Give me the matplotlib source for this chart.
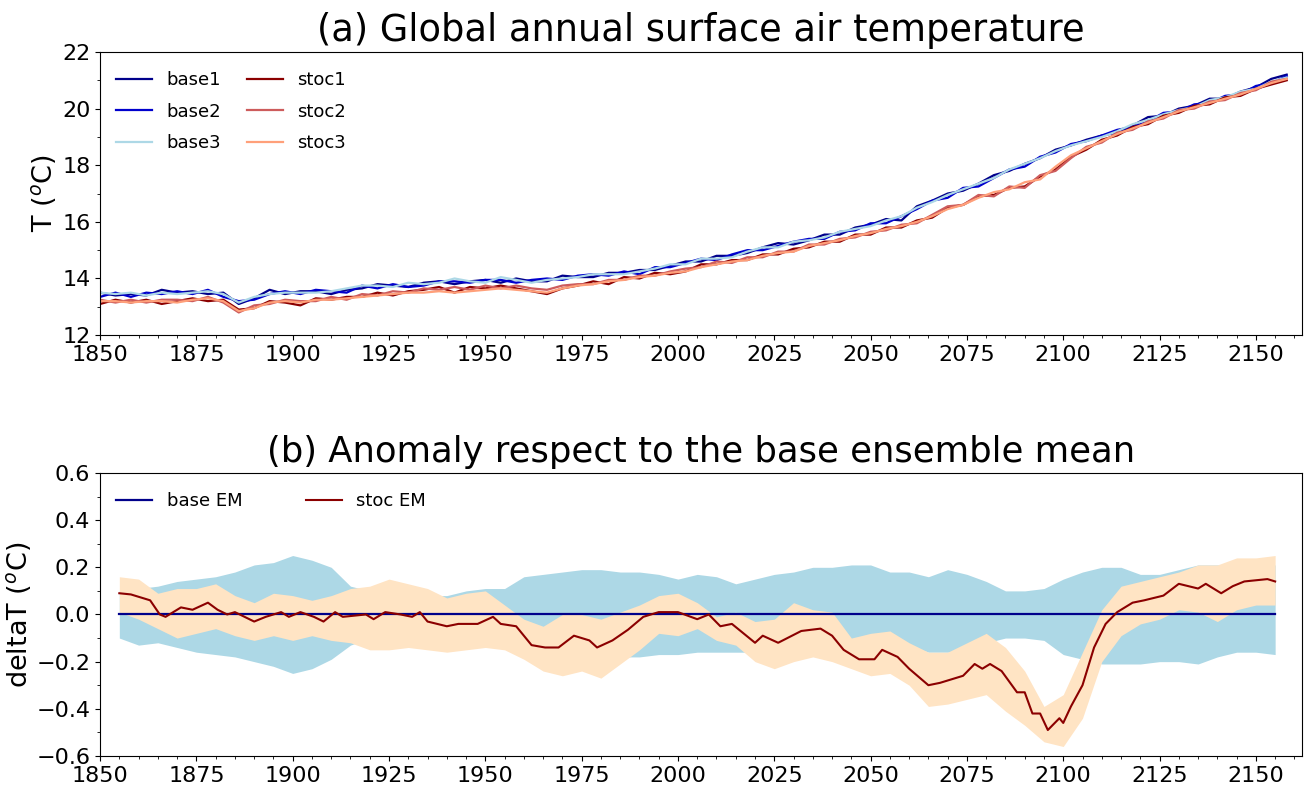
import numpy as np
import matplotlib
matplotlib.use("Agg")
import matplotlib.pyplot as plt
from matplotlib.ticker import MultipleLocator

# ---- panel (a): global annual SAT, read every 4 years ----
years = np.arange(1850, 2162, 4)

base1 = [13.50, 13.40, 13.45, 13.40, 13.60, 13.50, 13.55, 13.45, 13.50, 13.10,
         13.30, 13.60, 13.45, 13.55, 13.55, 13.45, 13.60, 13.65, 13.80, 13.75,
         13.70, 13.85, 13.90, 13.80, 13.90, 13.95, 13.85, 14.00, 13.90, 13.90,
         14.10, 14.05, 14.05, 14.20, 14.20, 14.30, 14.30, 14.45, 14.60, 14.60,
         14.80, 14.80, 14.90, 15.10, 15.25, 15.20, 15.35, 15.55, 15.55, 15.80,
         15.90, 16.10, 16.05, 16.55, 16.75, 17.00, 17.10, 17.35, 17.65, 17.80,
         18.05, 18.25, 18.55, 18.70, 18.90, 19.05, 19.15, 19.40, 19.70, 19.75,
         20.00, 20.10, 20.35, 20.35, 20.60, 20.75, 21.05, 21.20]
base2 = [13.35, 13.50, 13.35, 13.50, 13.45, 13.55, 13.45, 13.60, 13.35, 13.20,
         13.25, 13.45, 13.55, 13.45, 13.60, 13.55, 13.50, 13.75, 13.65, 13.80,
         13.70, 13.75, 13.90, 13.90, 13.85, 13.95, 13.95, 13.85, 13.95, 14.00,
         13.95, 14.10, 14.15, 14.10, 14.25, 14.15, 14.40, 14.40, 14.55, 14.70,
         14.65, 14.85, 15.00, 15.00, 15.15, 15.30, 15.40, 15.40, 15.65, 15.70,
         15.95, 15.95, 16.20, 16.45, 16.75, 16.85, 17.20, 17.25, 17.55, 17.85,
         17.95, 18.30, 18.45, 18.75, 18.85, 19.05, 19.25, 19.35, 19.55, 19.85,
         19.90, 20.15, 20.20, 20.45, 20.50, 20.80, 20.90, 21.15]
base3 = [13.50, 13.45, 13.50, 13.40, 13.50, 13.45, 13.50, 13.55, 13.45, 13.15,
         13.35, 13.45, 13.50, 13.50, 13.50, 13.55, 13.65, 13.75, 13.75, 13.70,
         13.85, 13.80, 13.85, 14.00, 13.90, 13.85, 14.05, 13.95, 13.85, 13.95,
         14.00, 14.05, 14.15, 14.15, 14.15, 14.25, 14.35, 14.50, 14.50, 14.70,
         14.70, 14.75, 14.95, 15.10, 15.10, 15.30, 15.35, 15.45, 15.65, 15.75,
         15.85, 16.05, 16.20, 16.50, 16.70, 16.95, 17.15, 17.35, 17.55, 17.85,
         18.05, 18.25, 18.50, 18.70, 18.85, 19.00, 19.20, 19.45, 19.60, 19.80,
         19.95, 20.05, 20.30, 20.40, 20.60, 20.70, 20.95, 21.10]
stoc1 = [13.10, 13.25, 13.15, 13.25, 13.10, 13.20, 13.30, 13.20, 13.25, 12.90,
         12.95, 13.20, 13.15, 13.05, 13.30, 13.25, 13.35, 13.35, 13.50, 13.40,
         13.55, 13.60, 13.70, 13.50, 13.70, 13.65, 13.75, 13.65, 13.55, 13.45,
         13.65, 13.75, 13.90, 13.80, 14.05, 14.00, 14.20, 14.15, 14.25, 14.50,
         14.50, 14.65, 14.65, 14.85, 14.85, 15.05, 15.10, 15.30, 15.30, 15.55,
         15.55, 15.80, 15.80, 16.05, 16.15, 16.50, 16.60, 16.90, 16.95, 17.20,
         17.25, 17.60, 17.85, 18.30, 18.55, 18.90, 19.05, 19.35, 19.45, 19.75,
         19.85, 20.10, 20.15, 20.40, 20.45, 20.70, 20.85, 21.00]
stoc2 = [13.25, 13.15, 13.25, 13.15, 13.25, 13.25, 13.20, 13.35, 13.15, 12.80,
         13.05, 13.10, 13.25, 13.20, 13.20, 13.35, 13.25, 13.45, 13.40, 13.55,
         13.50, 13.65, 13.60, 13.70, 13.60, 13.75, 13.65, 13.75, 13.65, 13.60,
         13.75, 13.80, 13.80, 13.95, 13.95, 14.10, 14.10, 14.25, 14.35, 14.40,
         14.60, 14.55, 14.75, 14.75, 14.95, 14.95, 15.20, 15.20, 15.40, 15.45,
         15.65, 15.70, 15.90, 15.95, 16.25, 16.55, 16.60, 16.95, 16.90, 17.25,
         17.20, 17.65, 17.80, 18.25, 18.65, 18.80, 19.15, 19.25, 19.55, 19.65,
         19.95, 20.00, 20.25, 20.30, 20.55, 20.65, 20.95, 21.05]
stoc3 = [13.20, 13.20, 13.15, 13.20, 13.20, 13.15, 13.25, 13.30, 13.20, 12.85,
         12.95, 13.15, 13.20, 13.15, 13.25, 13.25, 13.30, 13.35, 13.40, 13.45,
         13.50, 13.50, 13.55, 13.50, 13.55, 13.60, 13.65, 13.60, 13.55, 13.50,
         13.65, 13.75, 13.80, 13.90, 13.95, 14.05, 14.10, 14.20, 14.25, 14.40,
         14.50, 14.60, 14.65, 14.80, 14.90, 14.95, 15.15, 15.25, 15.35, 15.50,
         15.60, 15.75, 15.85, 16.00, 16.20, 16.45, 16.60, 16.85, 17.05, 17.15,
         17.40, 17.50, 17.95, 18.35, 18.60, 18.85, 19.10, 19.30, 19.50, 19.70,
         19.90, 20.05, 20.20, 20.35, 20.50, 20.70, 20.90, 21.05]

# ---- panel (b): anomaly wrt base ensemble mean ----
years_b = np.arange(1855, 2156, 5)
base_hi = [0.10, 0.11, 0.12, 0.14, 0.15, 0.16, 0.18, 0.21, 0.22, 0.25,
           0.23, 0.20, 0.12, 0.10, 0.09, 0.09, 0.08, 0.08, 0.10, 0.11,
           0.11, 0.16, 0.17, 0.18, 0.19, 0.19, 0.18, 0.18, 0.17, 0.15,
           0.17, 0.16, 0.13, 0.15, 0.17, 0.18, 0.20, 0.20, 0.21, 0.21,
           0.18, 0.18, 0.16, 0.19, 0.17, 0.14, 0.10, 0.10, 0.11, 0.15,
           0.18, 0.20, 0.20, 0.17, 0.17, 0.19, 0.21, 0.21, 0.21, 0.21, 0.21]
base_lo = [-0.10, -0.13, -0.12, -0.14, -0.16, -0.17, -0.18, -0.20, -0.22, -0.25,
           -0.23, -0.19, -0.13, -0.10, -0.10, -0.10, -0.10, -0.11, -0.12, -0.13,
           -0.14, -0.16, -0.17, -0.17, -0.18, -0.18, -0.18, -0.18, -0.17, -0.17,
           -0.16, -0.16, -0.16, -0.16, -0.17, -0.16, -0.16, -0.17, -0.20, -0.17,
           -0.13, -0.13, -0.16, -0.16, -0.15, -0.12, -0.10, -0.10, -0.11, -0.17,
           -0.19, -0.21, -0.21, -0.21, -0.20, -0.20, -0.21, -0.18, -0.16, -0.16, -0.17]
stoc_hi = [0.16, 0.15, 0.09, 0.11, 0.11, 0.13, 0.08, 0.05, 0.09, 0.08,
           0.06, 0.08, 0.11, 0.12, 0.15, 0.13, 0.11, 0.07, 0.09, 0.10,
           0.04, -0.02, -0.05, 0.00, 0.00, -0.02, 0.01, 0.04, 0.08, 0.09,
           0.05, -0.01, 0.01, -0.03, -0.02, 0.05, 0.02, 0.01, -0.10, -0.08,
           -0.07, -0.12, -0.16, -0.16, -0.12, -0.08, -0.14, -0.24, -0.39, -0.34,
           -0.16, 0.02, 0.12, 0.14, 0.16, 0.18, 0.21, 0.21, 0.24, 0.24, 0.25]
stoc_lo = [0.01, -0.02, -0.06, -0.10, -0.08, -0.06, -0.09, -0.11, -0.09, -0.11,
           -0.09, -0.11, -0.12, -0.15, -0.15, -0.14, -0.15, -0.16, -0.15, -0.14,
           -0.15, -0.19, -0.24, -0.26, -0.24, -0.27, -0.21, -0.15, -0.08, -0.09,
           -0.06, -0.11, -0.13, -0.20, -0.23, -0.20, -0.18, -0.20, -0.23, -0.26,
           -0.25, -0.30, -0.39, -0.38, -0.36, -0.34, -0.41, -0.47, -0.54, -0.56,
           -0.44, -0.20, -0.09, -0.04, -0.02, 0.02, 0.01, -0.03, 0.02, 0.04, 0.04]
base_em = np.zeros(len(years_b))

# stoc EM read at its turning points
em_years = [1855, 1858, 1861, 1863, 1865.5, 1867, 1871, 1874, 1878, 1880.5,
            1883, 1885, 1890, 1893, 1897, 1899, 1902, 1905.5, 1908, 1911,
            1913, 1919, 1921, 1924, 1928, 1931, 1933, 1935, 1940, 1943,
            1948, 1952, 1954, 1958, 1962, 1965.5, 1969, 1973, 1977, 1979,
            1983, 1987, 1991, 1995, 2000, 2005, 2008, 2011, 2014, 2020,
            2022, 2026, 2032, 2037, 2040, 2043, 2047, 2051, 2053, 2057,
            2060, 2065, 2068, 2074, 2077, 2079, 2081, 2084, 2088, 2090,
            2092, 2094, 2096, 2099, 2100, 2102, 2105, 2108, 2111, 2114,
            2118, 2121, 2126, 2130, 2135, 2137, 2141, 2144, 2147, 2153, 2155]
stoc_em = [0.09, 0.085, 0.07, 0.06, 0.0, -0.01, 0.03, 0.02, 0.05, 0.02,
           0.0, 0.01, -0.03, -0.01, 0.01, -0.01, 0.01, -0.01, -0.03, 0.01,
           -0.01, 0.0, -0.02, 0.01, 0.0, -0.01, 0.01, -0.03, -0.05, -0.04,
           -0.04, -0.01, -0.04, -0.05, -0.13, -0.14, -0.14, -0.09, -0.11, -0.14,
           -0.11, -0.065, -0.01, 0.01, 0.01, -0.02, 0.0, -0.05, -0.04, -0.12,
           -0.09, -0.12, -0.07, -0.06, -0.09, -0.15, -0.19, -0.19, -0.15, -0.18,
           -0.23, -0.30, -0.29, -0.26, -0.21, -0.23, -0.21, -0.24, -0.33, -0.33,
           -0.42, -0.42, -0.49, -0.44, -0.46, -0.39, -0.30, -0.14, -0.04, 0.01,
           0.05, 0.06, 0.08, 0.13, 0.11, 0.13, 0.09, 0.12, 0.14, 0.15, 0.14]

fig = plt.figure(figsize=(13.08, 7.96), dpi=100)
ax1 = fig.add_axes([0.0765, 0.579, 0.919, 0.3557])
ax2 = fig.add_axes([0.0765, 0.0503, 0.919, 0.3555])

ax1.plot(years, base1, color='darkblue', lw=1.6, label='base1')
ax1.plot(years, base2, color='mediumblue', lw=1.6, label='base2')
ax1.plot(years, base3, color='lightblue', lw=1.6, label='base3')
ax1.plot(years, stoc1, color='darkred', lw=1.6, label='stoc1')
ax1.plot(years, stoc2, color='indianred', lw=1.6, label='stoc2')
ax1.plot(years, stoc3, color='lightsalmon', lw=1.6, label='stoc3')
ax1.set_xlim(1850, 2162)
ax1.set_ylim(12, 22)
ax1.set_title('(a) Global annual surface air temperature', fontsize=26.5, pad=8)
ax1.set_ylabel('T ($^o$C)', fontsize=19.5, labelpad=2)
ax1.legend(loc='upper left', bbox_to_anchor=(0.0, 0.99), ncol=2, frameon=False,
           fontsize=13, handlelength=2.0, columnspacing=1.4, labelspacing=0.75,
           borderaxespad=0.5)

ax2.fill_between(years_b, base_lo, base_hi, color='lightblue', lw=0)
ax2.fill_between(years_b, stoc_lo, stoc_hi, color='bisque', lw=0)
ax2.plot(years_b, base_em, color='darkblue', lw=1.6, label='base EM')
ax2.plot(em_years, stoc_em, color='darkred', lw=1.5, label='stoc EM')
ax2.set_xlim(1850, 2162)
ax2.set_ylim(-0.6, 0.6)
ax2.set_title('(b) Anomaly respect to the base ensemble mean', fontsize=25.5, pad=8)
ax2.set_ylabel('deltaT ($^o$C)', fontsize=19.5, labelpad=2)
ax2.legend(loc='upper left', bbox_to_anchor=(0.0, 0.99), ncol=2, frameon=False,
           fontsize=13, handlelength=2.0, columnspacing=3.5, borderaxespad=0.5)

for ax in (ax1, ax2):
    ax.xaxis.set_major_locator(MultipleLocator(25))
    ax.xaxis.set_minor_locator(MultipleLocator(5))
    ax.tick_params(labelsize=16)
ax1.yaxis.set_minor_locator(MultipleLocator(1))
ax2.yaxis.set_minor_locator(MultipleLocator(0.1))

fig.savefig('out.png', dpi=100)
